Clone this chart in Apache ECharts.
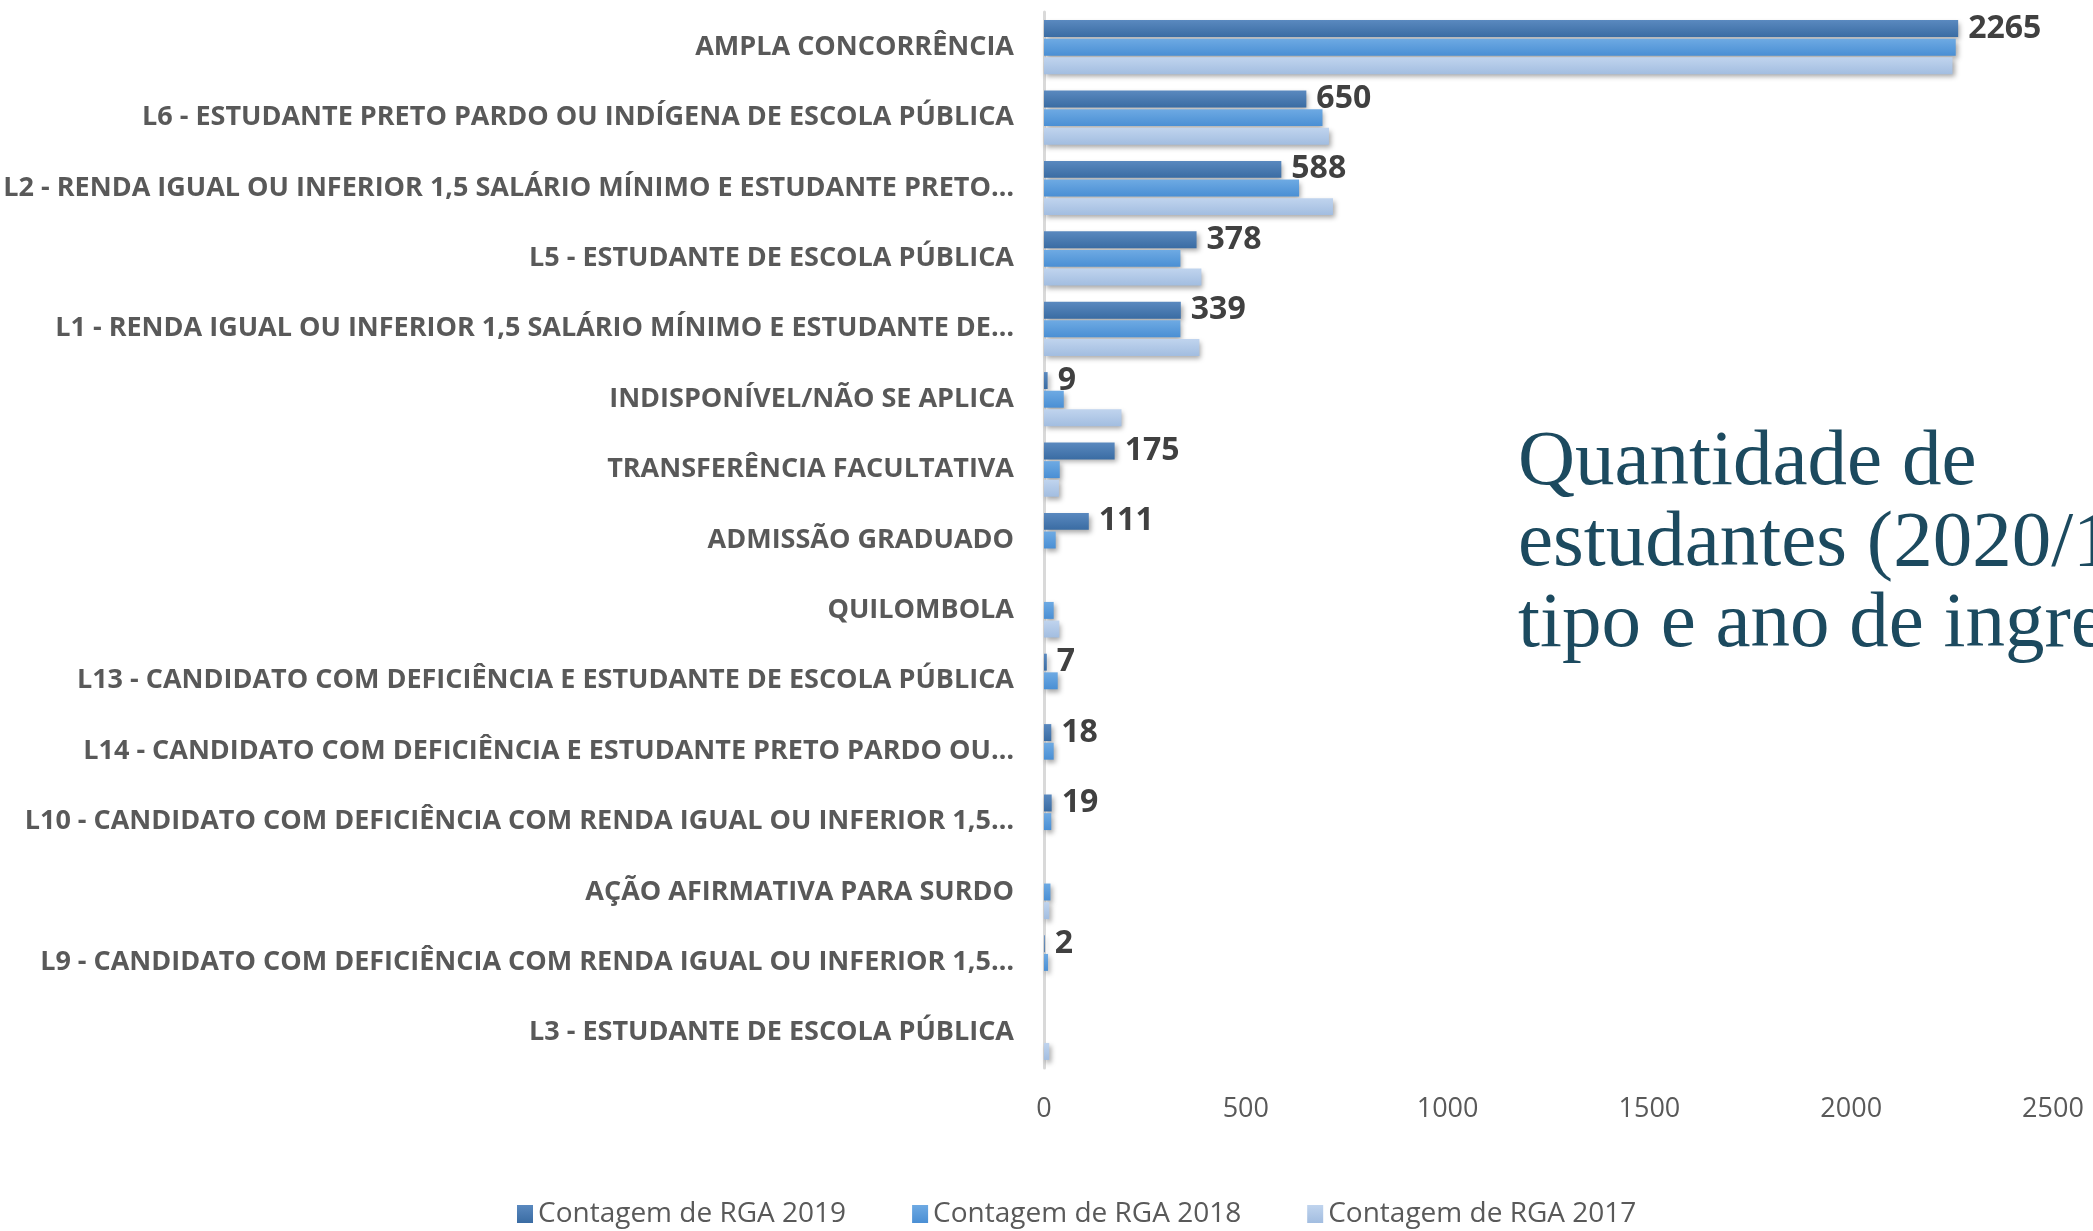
<!DOCTYPE html>
<html>
<head>
<meta charset="utf-8">
<script src="https://cdn.jsdelivr.net/npm/echarts@6/dist/echarts.min.js"></script>
<style>
html,body{margin:0;padding:0;background:#fff;}
#c{width:2093px;height:1231px;}
</style>
</head>
<body>
<div id="c"></div>
<script>
const categories = [
  'AMPLA CONCORRÊNCIA',
  'L6 - ESTUDANTE PRETO PARDO OU INDÍGENA DE ESCOLA PÚBLICA',
  'L2 - RENDA IGUAL OU INFERIOR 1,5 SALÁRIO MÍNIMO E ESTUDANTE PRETO…',
  'L5 - ESTUDANTE DE ESCOLA PÚBLICA',
  'L1 - RENDA IGUAL OU INFERIOR 1,5 SALÁRIO MÍNIMO E ESTUDANTE DE…',
  'INDISPONÍVEL/NÃO SE APLICA',
  'TRANSFERÊNCIA FACULTATIVA',
  'ADMISSÃO GRADUADO',
  'QUILOMBOLA',
  'L13 - CANDIDATO COM DEFICIÊNCIA E ESTUDANTE DE ESCOLA PÚBLICA',
  'L14 - CANDIDATO COM DEFICIÊNCIA E ESTUDANTE PRETO PARDO OU…',
  'L10 - CANDIDATO COM DEFICIÊNCIA COM RENDA IGUAL OU INFERIOR 1,5…',
  'AÇÃO AFIRMATIVA PARA SURDO',
  'L9 - CANDIDATO COM DEFICIÊNCIA COM RENDA IGUAL OU INFERIOR 1,5…',
  'L3 - ESTUDANTE DE ESCOLA PÚBLICA'
];
const seriesNames = ['Contagem de RGA 2019', 'Contagem de RGA 2018', 'Contagem de RGA 2017'];
const v2019 = [2265, 650, 588, 378, 339, 9, 175, 111, null, 7, 18, 19, null, 2, null];
const v2018 = [2259, 690, 632, 338, 338, 49, 39, 29, 24, 34, 24, 18, 16, 10, null];
const v2017 = [2251, 706, 716, 390, 385, 192, 37, null, 38, null, null, null, 13, null, 13];
const xTicks = [0, 500, 1000, 1500, 2000, 2500];
const titleLines = ['Quantidade de', 'estudantes (2020/1) por', 'tipo e ano de ingresso'];

function grad(top, bottom) {
  return new echarts.graphic.LinearGradient(0, 0, 0, 1, [
    { offset: 0, color: top },
    { offset: 1, color: bottom }
  ]);
}
const colors = [
  grad('#5a89bf', '#3a6ca3'),
  grad('#6eaae3', '#4a8fd4'),
  grad('#c0d4ee', '#a2bde0')
];

const shadow = {
  shadowBlur: 5,
  shadowOffsetX: 2,
  shadowOffsetY: 3,
  shadowColor: 'rgba(0,0,0,0.35)'
};

const chart = echarts.init(document.getElementById('c'), null, { renderer: 'canvas' });
const dataSets = [v2019, v2018, v2017];

const option = {
  backgroundColor: '#ffffff',
  animation: false,
  textStyle: { fontFamily: 'Open Sans' },
  grid: { left: 1044, right: 40, top: 12, bottom: 163, containLabel: false },
  legend: {
    data: seriesNames,
    left: 512,
    top: 1195,
    icon: 'rect',
    itemWidth: 16,
    itemHeight: 18,
    itemGap: 66,
    textStyle: { fontSize: 28, color: '#595959', fontFamily: 'Open Sans' }
  },
  xAxis: {
    type: 'value',
    min: xTicks[0],
    max: xTicks[xTicks.length - 1],
    interval: 500,
    axisLine: { show: false },
    axisTick: { show: false },
    splitLine: { show: false },
    axisLabel: {
      fontSize: 27, color: '#595959', margin: 28, fontFamily: 'Open Sans',
      formatter: v => String(v)
    }
  },
  yAxis: {
    type: 'category',
    data: categories,
    inverse: true,
    axisLine: { show: true, lineStyle: { color: '#d9d9d9', width: 3 } },
    axisTick: { show: false },
    axisLabel: { fontSize: 27, fontWeight: 'bold', color: '#595959', margin: 30, fontFamily: 'Open Sans' }
  },
  series: dataSets.map((d, i) => ({
    name: seriesNames[i],
    type: 'bar',
    data: d,
    barCategoryGap: '23%',
    barGap: '10%',
    itemStyle: Object.assign({ color: colors[i] }, shadow),
    label: i === 0 ? {
      show: true,
      position: 'right',
      distance: 10,
      fontSize: 32,
      fontWeight: 'bold',
      color: '#404040',
      fontFamily: 'Open Sans'
    } : { show: false }
  })),
  graphic: [{
    type: 'text',
    left: 1518,
    top: 423,
    silent: true,
    style: {
      text: titleLines.join('\n'),
      font: '79px "Liberation Serif"',
      lineHeight: 81,
      fill: '#1c4a5f'
    }
  }]
};
chart.setOption(option);
</script>
</body>
</html>
